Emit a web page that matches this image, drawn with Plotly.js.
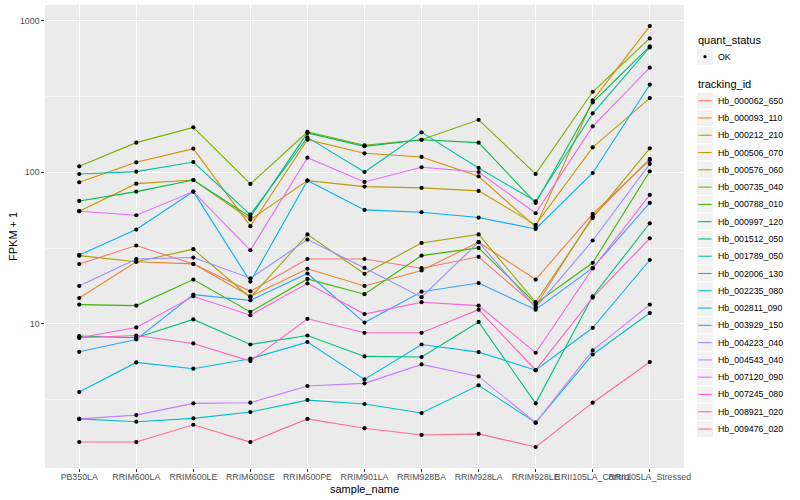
<!DOCTYPE html>
<html><head><meta charset="utf-8">
<script src="https://cdn.plot.ly/plotly-3.0.1.min.js"></script>
<style>html,body{margin:0;padding:0;background:#fff}</style>
</head><body>
<div id="chart" style="width:800px;height:500px"></div>
<script>
const samples = ["PB350LA","RRIM600LA","RRIM600LE","RRIM600SE","RRIM600PE","RRIM901LA","RRIM928BA","RRIM928LA","RRIM928LE","RRII105LA_Control","RRII105LA_Stressed"];
const trackingIds = ["Hb_000062_650","Hb_000093_110","Hb_000212_210","Hb_000506_070","Hb_000576_060","Hb_000735_040","Hb_000788_010","Hb_000997_120","Hb_001512_050","Hb_001789_050","Hb_002006_130","Hb_002235_080","Hb_002811_090","Hb_003929_150","Hb_004223_040","Hb_004543_040","Hb_007120_090","Hb_007245_080","Hb_008921_020","Hb_009476_020"];
const lineColors = ["#F8766D","#EA8331","#D89000","#C09B00","#A3A500","#7CAE00","#39B600","#00BB4E","#00BF7D","#00C1A3","#00BFC4","#00BAE0","#00B0F6","#35A2FF","#9590FF","#C77CFF","#E76BF3","#FA62DB","#FF62BC","#FF6C91"];
const quantStatus = ["OK"];
const yTicks = [10, 100, 1000];
const yMinor = [3.162, 31.62, 316.2];
const xTitle = "sample_name";
const yTitle = "FPKM + 1";

// FPKM + 1 values, one array per tracking_id, in sample order
const hb_000062_650 = [24.8, 32.9, 24.8, 16.4, 26.8, 26.8, 23.3, 27.7, 13.1, 51.3, 122.5];
const hb_000093_110 = [14.8, 25.7, 24.9, 15.2, 23.1, 17.8, 22.5, 34.6, 19.6, 53.2, 120.6];
const hb_000212_210 = [86.0, 116.4, 143.3, 44.1, 164.3, 133.5, 126.3, 94.1, 43.6, 298.4, 922];
const hb_000506_070 = [55.4, 84.2, 89.0, 48.8, 88.2, 80.5, 78.9, 75.4, 45.0, 146.2, 309];
const hb_000576_060 = [28.2, 25.7, 31.1, 14.9, 38.9, 21.4, 34.2, 38.9, 13.9, 50.0, 144];
const hb_000735_040 = [109.6, 157, 198, 83.8, 184.6, 150.8, 164, 222, 97.6, 340, 765];
const hb_000788_010 = [13.4, 13.2, 19.6, 12.0, 19.8, 15.7, 28.2, 31.7, 13.6, 25.3, 101.6];
const hb_000997_120 = [64.7, 74.6, 89.0, 50.8, 181.8, 148.4, 164, 157, 62.8, 289.5, 677];
const hb_001512_050 = [8.30, 8.09, 10.7, 7.31, 8.38, 6.10, 6.04, 10.3, 2.99, 15.2, 46.1];
const hb_001789_050 = [97.5, 101, 117, 52.6, 170, 100.5, 183.6, 106.9, 64.4, 245, 667];
const hb_002006_130 = [2.36, 2.26, 2.38, 2.62, 3.14, 2.96, 2.58, 3.93, 2.23, 6.28, 11.8];
const hb_002235_080 = [3.55, 5.57, 5.06, 5.89, 7.58, 4.30, 7.31, 6.51, 4.95, 9.42, 26.4];
const hb_002811_090 = [28.5, 41.9, 74.6, 19.0, 88.2, 56.5, 54.5, 50.3, 42.3, 99.0, 378.6];
const hb_003929_150 = [6.54, 7.89, 15.6, 14.3, 21.5, 10.2, 16.3, 18.6, 12.4, 23.4, 62.8];
const hb_004223_040 = [17.8, 26.8, 27.4, 20.0, 36.0, 23.4, 15.0, 34.6, 12.8, 35.5, 113.6];
const hb_004543_040 = [2.36, 2.50, 2.99, 3.02, 3.89, 4.05, 5.40, 4.50, 2.23, 6.68, 13.4];
const hb_007120_090 = [55.4, 52.1, 74.6, 30.6, 125, 86.4, 108, 100.5, 53.7, 201, 490];
const hb_007245_080 = [8.09, 9.47, 15.2, 11.4, 18.5, 11.6, 13.9, 13.2, 6.45, 23.2, 70.9];
const hb_008921_020 = [8.09, 8.38, 7.43, 5.68, 10.8, 8.73, 8.73, 12.4, 4.95, 14.9, 36.7];
const hb_009476_020 = [1.66, 1.66, 2.16, 1.66, 2.36, 2.05, 1.85, 1.88, 1.54, 3.02, 5.60];

const series = [hb_000062_650, hb_000093_110, hb_000212_210, hb_000506_070, hb_000576_060,
  hb_000735_040, hb_000788_010, hb_000997_120, hb_001512_050, hb_001789_050,
  hb_002006_130, hb_002235_080, hb_002811_090, hb_003929_150, hb_004223_040,
  hb_004543_040, hb_007120_090, hb_007245_080, hb_008921_020, hb_009476_020];

const FONT = "'Liberation Sans', Arial, Helvetica, sans-serif";
const traces = [];
series.forEach((vals, i) => {
  traces.push({
    type: "scatter", mode: "lines", x: samples, y: vals, name: trackingIds[i],
    line: {color: lineColors[i], width: 1.1}, showlegend: false, hoverinfo: "skip"
  });
});
const allX = [], allY = [];
series.forEach(vals => vals.forEach((v, j) => { allX.push(samples[j]); allY.push(v); }));
traces.push({
  type: "scatter", mode: "markers", x: allX, y: allY, name: quantStatus[0],
  marker: {color: "#000000", size: 4.2}, showlegend: false, hoverinfo: "skip"
});

// plot area in pixels: x 45..684, y 5..468
const PL = 45, PR = 684, PT = 5, PB = 468;
const px = v => (v - PL) / (PR - PL);
const py = v => (PB - v) / (PB - PT);

const shapes = [], annotations = [];
function keyBox(cy) {
  shapes.push({type: "rect", xref: "paper", yref: "paper",
    x0: px(696.4), x1: px(713.6), y0: py(cy + 8.64), y1: py(cy - 8.64),
    fillcolor: "#F2F2F2", line: {color: "#FFFFFF", width: 1}, layer: "above"});
}
function legText(txt, x, y, size) {
  annotations.push({xref: "paper", yref: "paper", x: px(x), y: py(y), text: txt,
    showarrow: false, xanchor: "left", yanchor: "middle",
    font: {family: FONT, size: size, color: "#000000"}});
}
legText("quant_status", 695.5, 40.5, 11);
keyBox(56.7);
shapes.push({type: "circle", xref: "paper", yref: "paper",
  x0: px(703.4), x1: px(706.6), y0: py(58.3), y1: py(55.1),
  fillcolor: "#000000", line: {color: "#000000", width: 0}, layer: "above"});
legText(quantStatus[0], 715.5, 56.7, 8.8);
legText("tracking_id", 695.5, 84.3, 11);
trackingIds.forEach((id, i) => {
  const cy = 100.7 + 17.28 * i;
  keyBox(cy);
  shapes.push({type: "line", xref: "paper", yref: "paper",
    x0: px(698.3), x1: px(711.7), y0: py(cy), y1: py(cy),
    line: {color: lineColors[i], width: 1.1}, layer: "above"});
  legText(id, 715.5, cy, 8.8);
});
// axis titles
annotations.push({xref: "paper", yref: "paper", x: 0.5, y: py(489), text: xTitle,
  showarrow: false, xanchor: "center", yanchor: "middle",
  font: {family: FONT, size: 11, color: "#000000"}});
annotations.push({xref: "paper", yref: "paper", x: px(12.5), y: py(236.5), text: yTitle,
  showarrow: false, xanchor: "center", yanchor: "middle", textangle: -90,
  font: {family: FONT, size: 11, color: "#000000"}});

const layout = {
  width: 800, height: 500,
  margin: {l: PL, r: 800 - PR, t: PT, b: 500 - PB, pad: 0},
  paper_bgcolor: "#FFFFFF", plot_bgcolor: "#EBEBEB",
  font: {family: FONT, size: 8.8, color: "#4D4D4D"},
  showlegend: false,
  xaxis: {
    type: "category", range: [-0.6, 10.6], categoryorder: "array", categoryarray: samples,
    showgrid: true, gridcolor: "#FFFFFF", gridwidth: 1.07, zeroline: false, showline: false,
    ticks: "outside", ticklen: 2.7, tickcolor: "#333333", tickwidth: 1.07, tickangle: 0,
    ticklabelstandoff: -2,
    tickfont: {family: FONT, size: 8.8, color: "#4D4D4D"},
    automargin: false, fixedrange: true
  },
  yaxis: {
    type: "log", range: [0.049, 3.104],
    tickmode: "array", tickvals: yTicks, ticktext: yTicks.map(String),
    showgrid: true, gridcolor: "#FFFFFF", gridwidth: 1.07, zeroline: false, showline: false,
    ticks: "outside", ticklen: 2.7, tickcolor: "#333333", tickwidth: 1.07,
    tickfont: {family: FONT, size: 8.8, color: "#4D4D4D"},
    minor: {tickmode: "array", tickvals: yMinor, showgrid: true, gridcolor: "#FFFFFF", gridwidth: 0.53, ticks: ""},
    automargin: false, fixedrange: true
  },
  shapes: shapes, annotations: annotations
};
Plotly.newPlot("chart", traces, layout, {staticPlot: true, displayModeBar: false});
</script>
</body></html>
